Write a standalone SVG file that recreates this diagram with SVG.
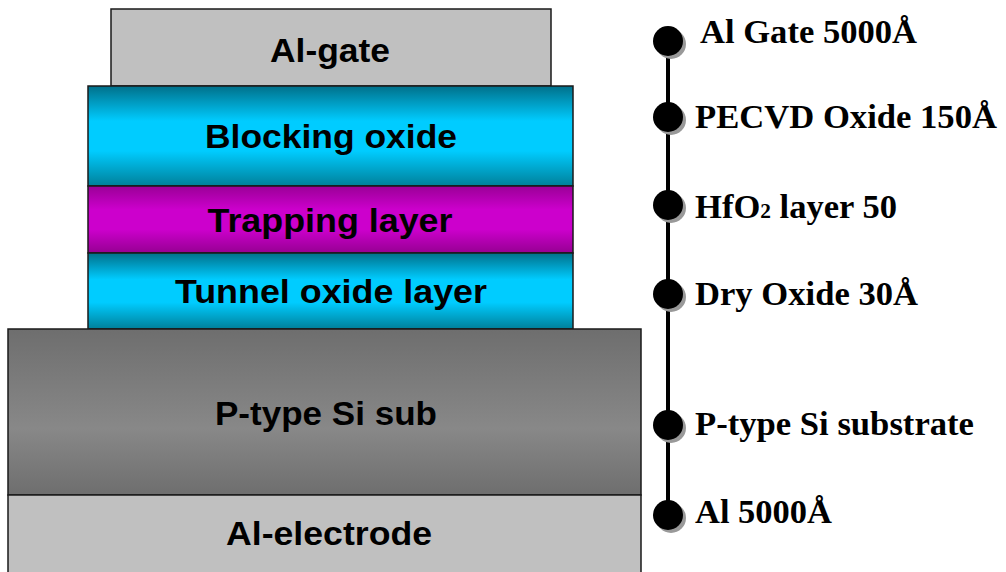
<svg xmlns="http://www.w3.org/2000/svg" width="1006" height="572" viewBox="0 0 1006 572">
<defs>
<linearGradient id="cyan" x1="0" y1="0" x2="0" y2="1">
<stop offset="0" stop-color="#00708a"/>
<stop offset="0.35" stop-color="#00ccff"/>
<stop offset="0.65" stop-color="#00ccff"/>
<stop offset="1" stop-color="#00809a"/>
</linearGradient>
<linearGradient id="mag" x1="0" y1="0" x2="0" y2="1">
<stop offset="0" stop-color="#9a0096"/>
<stop offset="0.35" stop-color="#cc00cc"/>
<stop offset="0.65" stop-color="#cc00cc"/>
<stop offset="1" stop-color="#960092"/>
</linearGradient>
<linearGradient id="grey" x1="0" y1="0" x2="0" y2="1">
<stop offset="0" stop-color="#6e6e6e"/>
<stop offset="0.6" stop-color="#888888"/>
<stop offset="1" stop-color="#6e6e6e"/>
</linearGradient>
<style>
.layer{stroke:#1a1a1a;stroke-width:1.5}
.lt{font-family:"Liberation Sans",Arial,sans-serif;font-weight:bold;font-size:33px;fill:#000;text-anchor:middle}
.rt{font-family:"Liberation Serif","Times New Roman",serif;font-weight:bold;font-size:34px;fill:#000}
.dot{fill:#000}
.sh{fill:#999}
</style>
</defs>
<rect width="1006" height="572" fill="#fff"/>
<g id="al-gate"><rect class="layer" x="111" y="9" width="440" height="77" fill="#c0c0c0"/><text class="lt" x="330" y="62" textLength="120" lengthAdjust="spacingAndGlyphs">Al-gate</text></g>
<g id="blocking-oxide"><rect class="layer" x="88" y="86" width="485" height="100" fill="url(#cyan)"/><text class="lt" x="331" y="148" textLength="252" lengthAdjust="spacingAndGlyphs">Blocking oxide</text></g>
<g id="trapping-layer"><rect class="layer" x="88" y="186" width="485" height="67" fill="url(#mag)"/><text class="lt" x="330" y="232" textLength="245" lengthAdjust="spacingAndGlyphs">Trapping layer</text></g>
<g id="tunnel-oxide"><rect class="layer" x="88" y="253" width="485" height="76" fill="url(#cyan)"/><text class="lt" x="331" y="303" textLength="312" lengthAdjust="spacingAndGlyphs">Tunnel oxide layer</text></g>
<g id="p-sub"><rect class="layer" x="8" y="329" width="633" height="166" fill="url(#grey)"/><text class="lt" x="326" y="425" textLength="222" lengthAdjust="spacingAndGlyphs">P-type Si sub</text></g>
<g id="al-electrode"><rect class="layer" x="8" y="495" width="633" height="80" fill="#c0c0c0"/><text class="lt" x="329" y="545" textLength="206" lengthAdjust="spacingAndGlyphs">Al-electrode</text></g>
<g id="connectors"><line x1="668" y1="41" x2="668" y2="515" stroke="#000" stroke-width="4"/></g>
<g id="label-1"><circle class="sh" cx="671" cy="44" r="15"/><circle class="dot" cx="668" cy="41" r="15"/><text class="rt" x="700" y="43" textLength="217" lengthAdjust="spacingAndGlyphs">Al Gate 5000Å</text></g>
<g id="label-2"><circle class="sh" cx="671" cy="120" r="15"/><circle class="dot" cx="668" cy="117" r="15"/><text class="rt" x="695" y="128" textLength="302" lengthAdjust="spacingAndGlyphs">PECVD Oxide 150Å</text></g>
<g id="label-3"><circle class="sh" cx="671" cy="208" r="15"/><circle class="dot" cx="668" cy="205" r="15"/><text class="rt" x="695" y="218" textLength="202" lengthAdjust="spacingAndGlyphs">HfO<tspan font-size="21">2</tspan> layer 50</text></g>
<g id="label-4"><circle class="sh" cx="671" cy="297" r="15"/><circle class="dot" cx="668" cy="294" r="15"/><text class="rt" x="695" y="305" textLength="223" lengthAdjust="spacingAndGlyphs">Dry Oxide 30Å</text></g>
<g id="label-5"><circle class="sh" cx="671" cy="428" r="15"/><circle class="dot" cx="668" cy="425" r="15"/><text class="rt" x="695" y="435" textLength="279" lengthAdjust="spacingAndGlyphs">P-type Si substrate</text></g>
<g id="label-6"><circle class="sh" cx="671" cy="518" r="15"/><circle class="dot" cx="668" cy="515" r="15"/><text class="rt" x="695" y="523" textLength="137" lengthAdjust="spacingAndGlyphs">Al 5000Å</text></g>
</svg>
